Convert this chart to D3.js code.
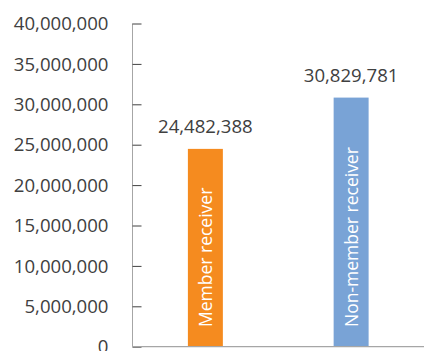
<!DOCTYPE html>
<html><head><meta charset="utf-8">
<script src="https://cdn.jsdelivr.net/npm/d3@7"></script>
<style>body{margin:0;background:#fff}svg{display:block}text{font-family:"Open Sans",sans-serif}</style>
</head><body><svg id="c" width="424" height="351"></svg>
<script>
const categories = ["Member receiver", "Non-member receiver"];
const values = [24482388, 30829781];
const colors = ["#F58B1F", "#79A3D6"];
const tickValues = [0, 5000000, 10000000, 15000000, 20000000, 25000000, 30000000, 35000000, 40000000];

const svg = d3.select("#c");
const fmt = d3.format(",");
const y = d3.scaleLinear().domain([0, 40000000]).range([346.7, 23.5]);
const x = d3.scaleBand().domain(categories).range([132.5, 424]).paddingInner(0.76).paddingOuter(0.38);
const fsNum = 18.6;
const fsCat = 17.5;
const textCol = "#404040";

// y axis ticks (pointing inward)
const yAxis = d3.axisRight(y).tickValues(tickValues).tickSize(9).tickFormat("");
const gy = svg.append("g").attr("transform", "translate(132.5,0)").call(yAxis);
gy.select(".domain").attr("stroke", "#a6a6a6").attr("d", `M0,${y(40000000)}V${y(0)}`);
gy.selectAll(".tick line").attr("stroke", "#404040").attr("stroke-width", 1);

// tick labels
svg.append("g").selectAll("text").data(tickValues).join("text")
  .attr("x", 108.5).attr("y", d => y(d)).attr("dy", "0.36em")
  .attr("text-anchor", "end").attr("font-size", fsNum).attr("fill", textCol)
  .text(d => fmt(d));

// bars
svg.append("g").selectAll("rect").data(categories).join("rect")
  .attr("x", d => x(d)).attr("width", x.bandwidth())
  .attr("y", (d, i) => y(values[i])).attr("height", (d, i) => y(0) - y(values[i]))
  .attr("fill", (d, i) => colors[i]);

// x axis baseline
svg.append("line").attr("x1", 132.5).attr("x2", 424).attr("y1", y(0)).attr("y2", y(0))
  .attr("stroke", "#a6a6a6").attr("stroke-width", 1.2);

// value labels
svg.append("g").selectAll("text").data(categories).join("text")
  .attr("x", d => x(d) + x.bandwidth() / 2).attr("y", (d, i) => y(values[i]) - 16)
  .attr("text-anchor", "middle").attr("font-size", fsNum).attr("fill", textCol)
  .text((d, i) => fmt(values[i]));

// category labels inside bars (rotated)
svg.append("g").selectAll("text").data(categories).join("text")
  .attr("transform", d => `translate(${x(d) + x.bandwidth() / 2 + 6.5},327) rotate(-90)`)
  .attr("text-anchor", "start").attr("font-size", fsCat).attr("fill", "#fff")
  .text(d => d);
</script></body></html>
